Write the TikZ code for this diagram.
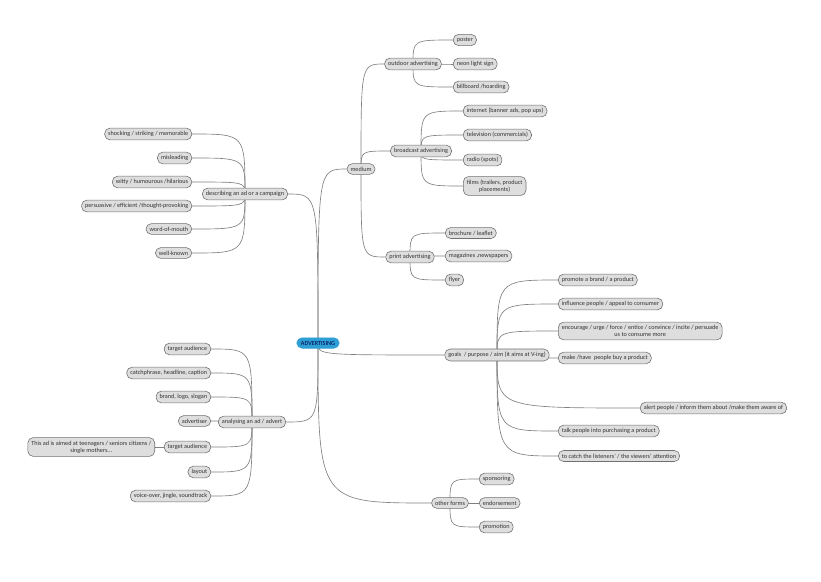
\documentclass[tikz,border=0pt]{standalone}
\usepackage{fontspec}
\setmainfont{Carlito}
\usetikzlibrary{backgrounds}
\definecolor{boxfill}{HTML}{DEDEDE}
\definecolor{boxline}{HTML}{707070}
\definecolor{wire}{HTML}{808080}
\definecolor{rootblue}{HTML}{2E9FD4}
\definecolor{inktext}{HTML}{333333}

\tikzset{
  leaf/.style={draw=boxline, fill=boxfill, rounded corners=4.5pt, line width=0.5pt,
    inner xsep=3pt, inner ysep=2.7pt, text=inktext, align=center,
    font=\fontsize{5.3}{6}\selectfont},
  topic/.style={leaf},
  rootnode/.style={leaf, fill=rootblue, draw=rootblue, text=blue!30!black, inner xsep=3.5pt},
  branch/.style={draw=wire, line width=0.55pt}
}

\begin{document}
\begin{tikzpicture}[x=0.03cm, y=-0.03cm]
\useasboundingbox (0,0) rectangle (821,581);

\node[rootnode] (adv) at (318,343) {ADVERTISING};

% medium
\node[topic] (med) at (361,169) {medium};
\node[topic] (outd) at (413,64) {outdoor advertising};
\node[leaf, anchor=west] (poster) at (453,40) {poster};
\node[leaf, anchor=west] (neon) at (453,64) {neon light sign};
\node[leaf, anchor=west] (bill) at (453,87) {billboard /hoarding};
\node[topic] (broad) at (421,151) {broadcast advertising};
\node[leaf, anchor=west] (inet) at (463,111) {internet (banner ads, pop ups)};
\node[leaf, anchor=west] (tv) at (463,135) {television (commercials)};
\node[leaf, anchor=west] (radio) at (463,160) {radio (spots)};
\node[leaf, anchor=west] (films) at (463,186) {films (trailers, product\\placements)};
\node[topic] (print) at (410,257) {print advertising};
\node[leaf, anchor=west] (broch) at (445,233) {brochure / leaflet};
\node[leaf, anchor=west] (mags) at (445,256) {magazines ,newspapers};
\node[leaf, anchor=west] (flyer) at (445,280) {flyer};

% goals
\node[topic] (goals) at (497,355) {goals\ \ / purpose / aim (it aims at V-ing)};
\node[leaf, anchor=west] (promo) at (558,280) {promote a brand / a product};
\node[leaf, anchor=west] (influ) at (558,304) {influence people / appeal to consumer};
\node[leaf, anchor=west] (encour) at (558,331) {encourage / urge / force / entice / convince / incite / persuade\\us to consume more};
\node[leaf, anchor=west] (makeb) at (558,358) {make /have\ \ people buy a product};
\node[leaf, anchor=west] (alert) at (640,408) {alert people / inform them about /make them aware of};
\node[leaf, anchor=west] (talk) at (558,431) {talk people into purchasing a product};
\node[leaf, anchor=west] (catch) at (558,456) {to catch the listeners' / the viewers' attention};

% other forms
\node[topic] (other) at (450,503) {other forms};
\node[leaf, anchor=west] (spons) at (479,479) {sponsoring};
\node[leaf, anchor=west] (endors) at (479,503) {endorsement};
\node[leaf, anchor=west] (promotion) at (479,527) {promotion};

% describing
\node[topic] (desc) at (245,194) {describing an ad or a campaign};
\node[leaf, anchor=east] (shock) at (192,134) {shocking / striking / memorable};
\node[leaf, anchor=east] (mislead) at (192,158) {misleading};
\node[leaf, anchor=east] (witty) at (192,182) {witty / humourous /hilarious};
\node[leaf, anchor=east] (persu) at (192,206) {persuasive / efficient /thought-provoking};
\node[leaf, anchor=east] (wom) at (192,229) {word-of-mouth};
\node[leaf, anchor=east] (wellk) at (192,253) {well-known};

% analysing
\node[topic] (analyse) at (252,422) {analysing an ad / advert};
\node[leaf, anchor=east] (taudA) at (211,349) {target audience};
\node[leaf, anchor=east] (catchph) at (211,373) {catchphrase, headline, caption};
\node[leaf, anchor=east] (brand) at (211,397) {brand, logo, slogan};
\node[leaf, anchor=east] (advert) at (211,421) {advertiser};
\node[leaf, anchor=east] (taudB) at (211,447) {target audience};
\node[leaf, anchor=east] (thisad) at (155,447) {This ad is aimed at teenagers / seniors citizens /\\single mothers...};
\node[leaf, anchor=east] (layout) at (211,472) {layout};
\node[leaf, anchor=east] (voice) at (211,496) {voice-over, jingle, soundtrack};

\begin{scope}[on background layer]
  \foreach \p/\c in {adv/med, adv/goals, adv/other, med/outd, med/broad, med/print,
      outd/poster, outd/neon, outd/bill, broad/inet, broad/tv, broad/radio, broad/films,
      print/broch, print/mags, print/flyer, goals/promo, goals/influ, goals/encour,
      goals/makeb, goals/alert, goals/talk, goals/catch, other/spons, other/endors,
      other/promotion}
    \draw[branch] (\p.center) .. controls (\p.center |- \c.west) .. (\c.west);
  \foreach \p/\c in {adv/desc, adv/analyse, desc/shock, desc/mislead, desc/witty,
      desc/persu, desc/wom, desc/wellk, analyse/taudA, analyse/catchph, analyse/brand,
      analyse/advert, analyse/taudB, analyse/layout, analyse/voice}
    \draw[branch] (\p.center) .. controls (\p.center |- \c.east) .. (\c.east);
  \draw[branch] (taudB.west) -- (thisad.east);
\end{scope}
\end{tikzpicture}
\end{document}
